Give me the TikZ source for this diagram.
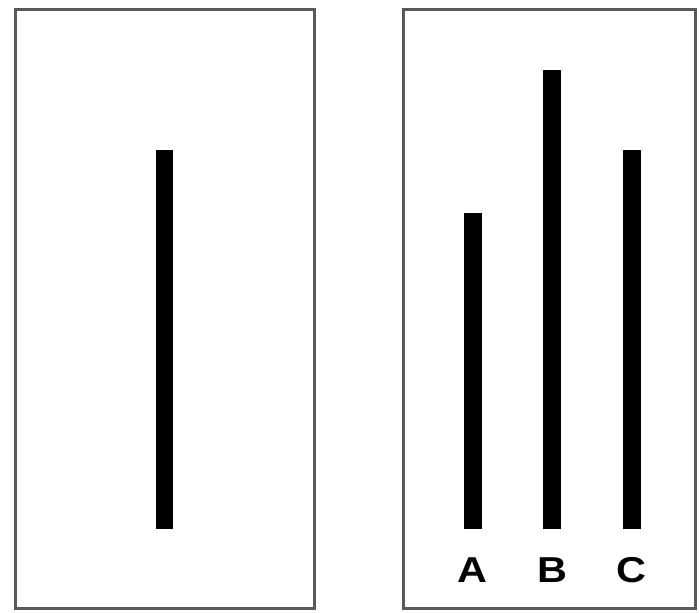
\documentclass[tikz,border=0pt]{standalone}
\usepackage{fontspec}
\setmainfont{Liberation Sans}
\begin{document}
\begin{tikzpicture}[x=1pt,y=-1pt,
  frame/.style={draw=black!65,line width=3pt,fill=white},
  bar/.style={fill=black,draw=none},
  lbl/.style={font=\fontsize{36}{36}\selectfont\bfseries,inner sep=0pt,xscale=1.15}]
\useasboundingbox[fill=white] (0,0) rectangle (699,613);
\draw[frame] (15,9) rectangle (314,608);
\draw[frame] (403,9) rectangle (695,608);
\fill[bar] (156,150) rectangle (173,529);
\fill[bar] (464,213) rectangle (482,529);
\fill[bar] (543,70) rectangle (561,529);
\fill[bar] (623,150) rectangle (641,529);
\node[lbl] (a) at (472,570) {A};
\node[lbl] (b) at (552,570) {B};
\node[lbl] (c) at (631,570) {C};
\end{tikzpicture}
\end{document}
